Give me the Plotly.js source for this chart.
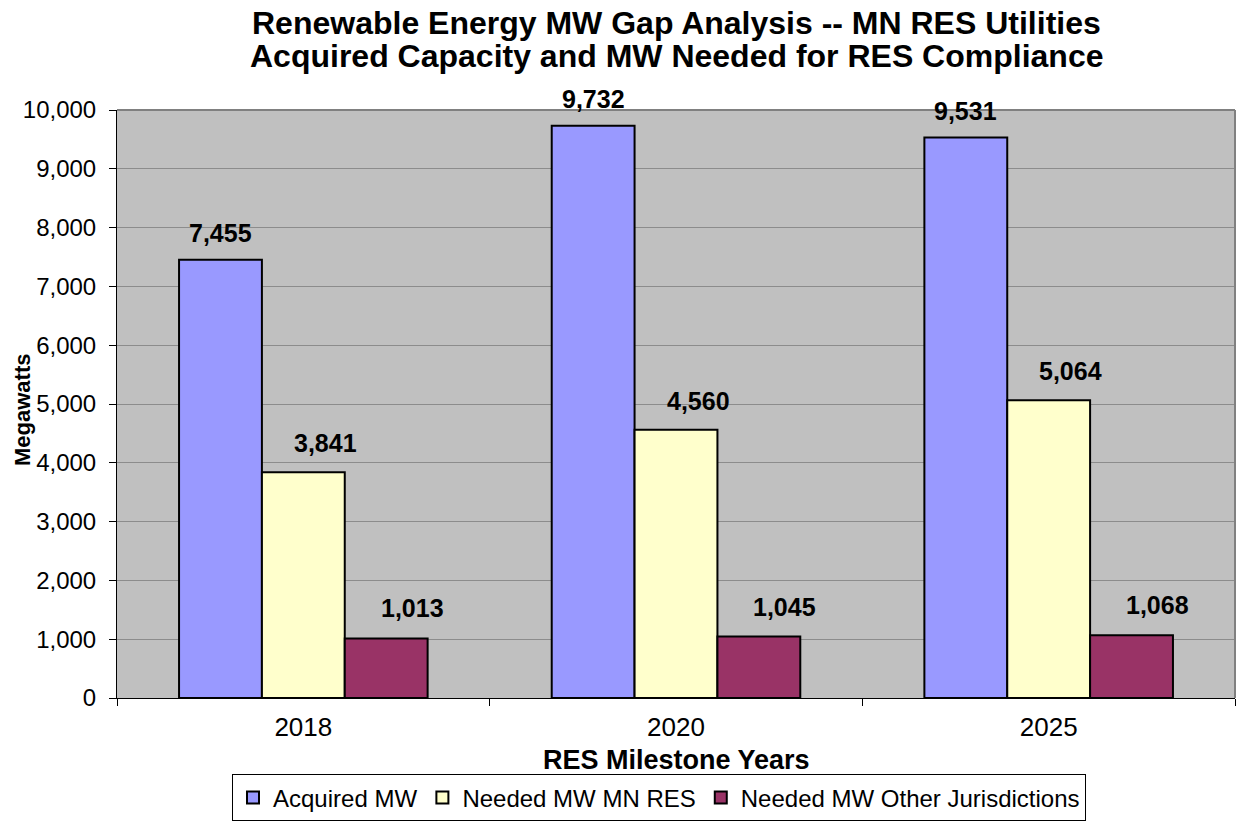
<!DOCTYPE html>
<html>
<head>
<meta charset="utf-8">
<script src="https://cdn.plot.ly/plotly-3.0.1.min.js"></script>
<style>html,body{margin:0;padding:0;background:#fff;}#chart{width:1238px;height:823px;}</style>
</head>
<body>
<div id="chart"></div>
<script>
const years = ['2018', '2020', '2025'];
const acquiredMW = [7455, 9732, 9531];
const neededMnRes = [3841, 4560, 5064];
const neededOther = [1013, 1045, 1068];
const seriesNames = ['Acquired MW', 'Needed MW MN RES', 'Needed MW Other Jurisdictions'];
const seriesColors = ['#9999FF', '#FFFFCC', '#993366'];
const yTickVals = [0,1000,2000,3000,4000,5000,6000,7000,8000,9000,10000];
const titleLines = ['Renewable Energy MW Gap Analysis -- MN RES Utilities', 'Acquired Capacity and MW Needed for RES Compliance'];

const FONT = 'Liberation Sans, Arial, sans-serif';
const allSeries = [acquiredMW, neededMnRes, neededOther];

// layout geometry (pixels)
const W = 1238, H = 823;
const M = {l: 117, r: 3, t: 110, b: 125};
const plotH = H - M.t - M.b;
const pyToPaper = py => (H - M.b - py) / plotH;

const traces = allSeries.map((vals, i) => ({
  type: 'bar',
  name: seriesNames[i],
  x: years,
  y: vals,
  marker: {color: seriesColors[i], line: {color: '#000', width: 2}},
  hoverinfo: 'x+y+name'
}));

// data labels: one per bar, placed on the bar via the category axis + offset within group
const labelXShift = [0, 22, 26];
const labelYShift = [27, 29, 30];
const nSeries = allSeries.length;
const bargap = 0.333;
const groupWidth = 1 - bargap;
const barW = groupWidth / nSeries;
const annotations = [];
allSeries.forEach((vals, i) => {
  vals.forEach((v, j) => {
    annotations.push({
      xref: 'x', yref: 'y',
      x: j - groupWidth / 2 + barW * (i + 0.5),
      y: v,
      text: '<b>' + v.toLocaleString('en-US') + '</b>',
      showarrow: false,
      xanchor: 'center', yanchor: 'middle',
      xshift: labelXShift[i], yshift: labelYShift[i],
      font: {family: FONT, size: 25, color: '#000'}
    });
  });
});

// title lines
annotations.push({
  xref: 'paper', yref: 'paper', x: 0.5, y: pyToPaper(23),
  text: '<b>' + titleLines[0] + '</b>', showarrow: false,
  xanchor: 'center', yanchor: 'middle',
  font: {family: FONT, size: 32, color: '#000'}
});
annotations.push({
  xref: 'paper', yref: 'paper', x: 0.5, y: pyToPaper(56),
  text: '<b>' + titleLines[1] + '</b>', showarrow: false,
  xanchor: 'center', yanchor: 'middle',
  font: {family: FONT, size: 32, color: '#000'}
});
// axis titles
annotations.push({
  text: '<b>Megawatts</b>', textangle: -90,
  xref: 'paper', yref: 'paper', x: (22 - M.l) / (W - M.l - M.r), y: pyToPaper(410),
  xanchor: 'center', yanchor: 'middle', showarrow: false,
  font: {family: FONT, size: 22, color: '#000'}
});
annotations.push({
  text: '<b>RES Milestone Years</b>',
  xref: 'paper', yref: 'paper', x: 0.5, y: pyToPaper(760),
  xanchor: 'center', yanchor: 'middle', showarrow: false,
  font: {family: FONT, size: 27, color: '#000'}
});

const layout = {
  width: W, height: H,
  paper_bgcolor: '#fff',
  plot_bgcolor: '#C0C0C0',
  margin: M,
  barmode: 'group',
  bargap: bargap,
  bargroupgap: 0,
  font: {family: FONT, color: '#000'},
  xaxis: {
    type: 'category',
    range: [-0.5, 2.5],
    tickfont: {family: FONT, size: 26},
    ticks: 'outside', ticklen: 7, tickcolor: '#000', tickwidth: 1,
    tickson: 'boundaries',
    ticklabelstandoff: 6,
    showline: true, linecolor: '#000', linewidth: 1,
    showgrid: false,
    automargin: false
  },
  yaxis: {
    range: [0, 10000],
    tickvals: yTickVals,
    tickformat: ',d',
    tickfont: {family: FONT, size: 24},
    ticks: 'outside', ticklen: 7, tickcolor: '#000',
    ticklabelstandoff: 8,
    showline: true, linecolor: '#000', linewidth: 1,
    gridcolor: '#8C8C8C', gridwidth: 1,
    zeroline: false,
    automargin: false
  },
  showlegend: true,
  legend: {
    orientation: 'h',
    xref: 'container', x: 659 / W, xanchor: 'center',
    yref: 'container', y: 0.002, yanchor: 'bottom',
    bordercolor: '#000', borderwidth: 1,
    bgcolor: '#fff',
    font: {family: FONT, size: 24},
    traceorder: 'normal',
    itemwidth: 30
  },
  annotations: annotations,
  shapes: [
    {type: 'line', xref: 'paper', yref: 'paper', x0: 0, x1: 1, y0: 1, y1: 1, line: {color: '#808080', width: 2}},
    {type: 'line', xref: 'paper', yref: 'paper', x0: 1, x1: 1, y0: 0, y1: 1, line: {color: '#808080', width: 2}}
  ]
};

Plotly.newPlot('chart', traces, layout, {displayModeBar: false, responsive: false});
</script>
</body>
</html>
